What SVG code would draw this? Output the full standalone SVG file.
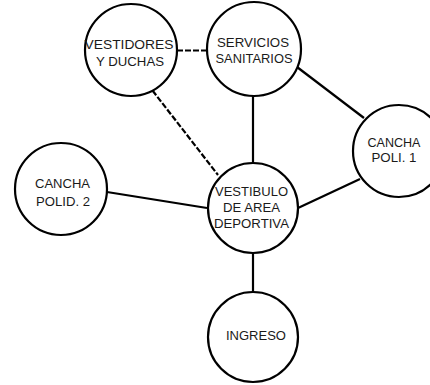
<svg xmlns="http://www.w3.org/2000/svg" width="430" height="385" viewBox="0 0 430 385">
<style>
.n{fill:#fff;stroke:#000;stroke-width:2.2}
.c{stroke:#000;stroke-width:2.2;fill:none}
.d{stroke-dasharray:6 2}
text{font-family:"Liberation Sans",Arial,sans-serif;font-size:13px;fill:#1a1a1a;text-anchor:middle}
</style>
<rect width="430" height="385" fill="#fff"/>
<g id="connectors">
<line class="c d" x1="177" y1="50.5" x2="207" y2="50.5"/>
<line class="c d" x1="152.5" y1="90.5" x2="218" y2="175"/>
<line class="c" x1="253" y1="95" x2="253" y2="163"/>
<line class="c" x1="297" y1="67" x2="364" y2="118"/>
<line class="c" x1="360" y1="179" x2="298" y2="208"/>
<line class="c" x1="107" y1="192" x2="207" y2="208"/>
<line class="c" x1="253" y1="253" x2="253" y2="292"/>
</g>
<g id="vestidores">
<circle class="n" cx="131" cy="50" r="46"/>
<text x="129" y="48.5" textLength="89" lengthAdjust="spacingAndGlyphs">VESTIDORES</text>
<text x="130" y="66" textLength="68" lengthAdjust="spacingAndGlyphs">Y DUCHAS</text>
</g>
<g id="servicios">
<circle class="n" cx="254" cy="49" r="47"/>
<text x="253" y="46.5" textLength="72" lengthAdjust="spacingAndGlyphs">SERVICIOS</text>
<text x="254" y="62.5" textLength="77" lengthAdjust="spacingAndGlyphs">SANITARIOS</text>
</g>
<g id="cancha1">
<circle class="n" cx="399" cy="151" r="46"/>
<text x="394" y="147" textLength="53" lengthAdjust="spacingAndGlyphs">CANCHA</text>
<text x="394" y="162" textLength="45" lengthAdjust="spacingAndGlyphs">POLI. 1</text>
</g>
<g id="cancha2">
<circle class="n" cx="61" cy="189" r="46"/>
<text x="62.5" y="188" textLength="55" lengthAdjust="spacingAndGlyphs">CANCHA</text>
<text x="63" y="206" textLength="54" lengthAdjust="spacingAndGlyphs">POLID. 2</text>
</g>
<g id="vestibulo">
<circle class="n" cx="253" cy="208" r="45"/>
<text x="251.5" y="196" textLength="73" lengthAdjust="spacingAndGlyphs">VESTIBULO</text>
<text x="251.5" y="212" textLength="57" lengthAdjust="spacingAndGlyphs">DE AREA</text>
<text x="251.5" y="228" textLength="75" lengthAdjust="spacingAndGlyphs">DEPORTIVA</text>
</g>
<g id="ingreso">
<circle class="n" cx="253" cy="337" r="45"/>
<text x="256" y="340" textLength="60" lengthAdjust="spacingAndGlyphs">INGRESO</text>
</g>
</svg>
